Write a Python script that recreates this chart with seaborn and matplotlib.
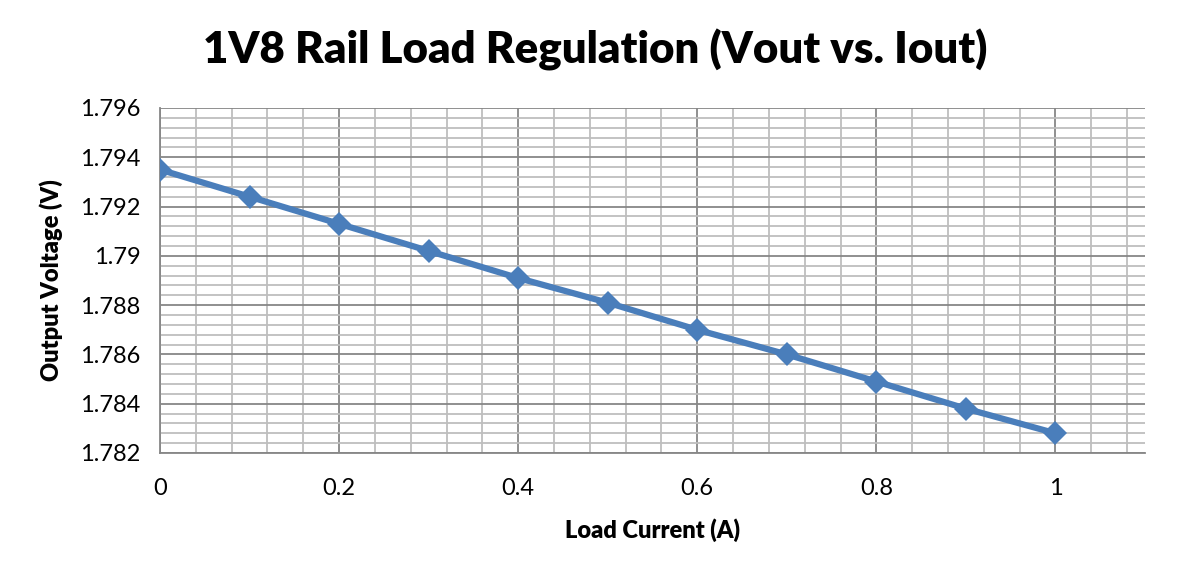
import numpy as np
import pandas as pd
import matplotlib
matplotlib.use("Agg")
import matplotlib.pyplot as plt
from matplotlib.ticker import MultipleLocator, FuncFormatter
import seaborn as sns

load_current = [0.0, 0.1, 0.2, 0.3, 0.4, 0.5, 0.6, 0.7, 0.8, 0.9, 1.0]
output_voltage = [1.7935, 1.7924, 1.7913, 1.7902, 1.7891, 1.7881, 1.7870,
                  1.7860, 1.7849, 1.7838, 1.7828]
title = "1V8 Rail Load Regulation (Vout vs. Iout)"
xlabel = "Load Current (A)"
ylabel = "Output Voltage (V)"

sns.set_theme(style="white")
plt.rcParams['font.family'] = ['Lato', 'DejaVu Sans']
plt.rcParams['text.color'] = 'black'
plt.rcParams['axes.labelcolor'] = 'black'

df = pd.DataFrame({"I": load_current, "V": output_voltage})

fig = plt.figure(figsize=(11.89, 5.74), dpi=100)
ax = fig.add_axes([160/1189, 1-453/574, (1145-160)/1189, (453-108)/574])

ax.set_xlim(0, 1.1)
ax.set_ylim(1.782, 1.796)
ax.xaxis.set_major_locator(MultipleLocator(0.2))
ax.xaxis.set_minor_locator(MultipleLocator(0.04))
ax.yaxis.set_major_locator(MultipleLocator(0.002))
ax.yaxis.set_minor_locator(MultipleLocator(0.0004))

ax.grid(which='minor', color='#BEBEBE', linewidth=1.3)
ax.grid(which='major', color='#878787', linewidth=1.3)
ax.set_axisbelow(True)

sns.lineplot(data=df, x="I", y="V", ax=ax, color='#4A7EBB', linewidth=4.5,
             marker='D', markersize=12, markeredgewidth=0, zorder=3)

def fmt(v, pos):
    return f"{v:.3f}".rstrip('0').rstrip('.')
ax.yaxis.set_major_formatter(FuncFormatter(fmt))
ax.xaxis.set_major_formatter(FuncFormatter(lambda v, p: f"{v:.1f}".rstrip('0').rstrip('.') if v != 0 else "0"))

for s in ['top', 'right']:
    ax.spines[s].set_visible(False)
for s in ['left', 'bottom']:
    ax.spines[s].set_color('#878787')
    ax.spines[s].set_linewidth(1.3)

ax.tick_params(axis='both', which='major', direction='out', length=6, width=1.3,
               color='#878787', labelsize=17, labelcolor='black')
ax.tick_params(axis='x', which='major', pad=12)
ax.tick_params(axis='y', which='major', pad=8)
ax.tick_params(which='minor', length=0)

ax.set_xlabel(xlabel, fontsize=17, fontweight='heavy', labelpad=14)
ax.set_ylabel(ylabel, fontsize=17, fontweight='heavy', labelpad=12)
fig.text(595/1189, 1-50/574, title, fontsize=31.5, fontweight='heavy',
         ha='center', va='center')

fig.savefig("out.png", dpi=100, facecolor='white')
